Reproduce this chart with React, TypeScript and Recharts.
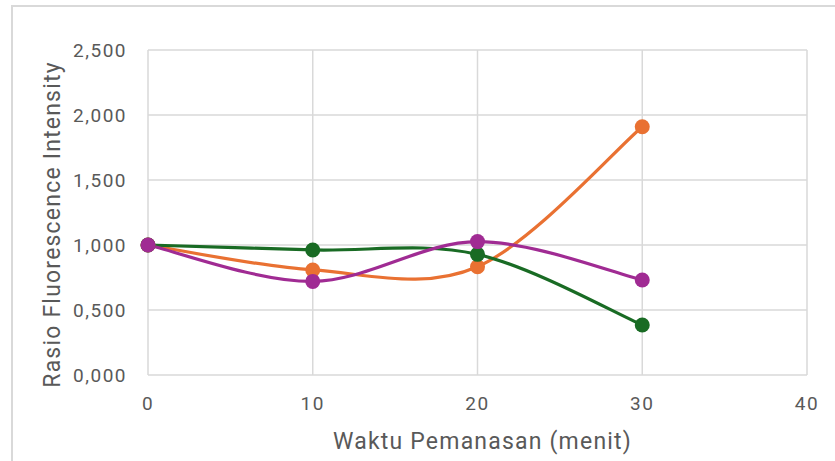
import React from "react";
import { LineChart, Line, XAxis, YAxis, CartesianGrid, Label } from "recharts";

// waktu pemanasan (menit)
const minutes = [0, 10, 20, 30];
const orangeSeries = [1.0, 0.808, 0.833, 1.91];
const greenSeries = [1.0, 0.962, 0.928, 0.385];
const purpleSeries = [1.0, 0.72, 1.026, 0.731];

const xTicks = [0, 10, 20, 30, 40];
const yTicks = [0, 0.5, 1.0, 1.5, 2.0, 2.5];

const data = minutes.map((m, i) => ({
  menit: m,
  orange: orangeSeries[i],
  green: greenSeries[i],
  purple: purpleSeries[i],
}));

const textColor = "#595959";
const gridColor = "#d9d9d9";
const font = "Roboto, 'Open Sans', sans-serif";

// Excel-style smoothed line (Catmull-Rom as cubic bezier, end points duplicated)
function excelSmooth(context: any) {
  let pts: number[][] = [];
  return {
    areaStart() {},
    areaEnd() {},
    lineStart() {
      pts = [];
    },
    point(x: number, y: number) {
      pts.push([+x, +y]);
    },
    lineEnd() {
      if (!pts.length) return;
      context.moveTo(pts[0][0], pts[0][1]);
      for (let i = 0; i < pts.length - 1; i++) {
        const p0 = pts[i - 1] || pts[i];
        const p1 = pts[i];
        const p2 = pts[i + 1];
        const p3 = pts[i + 2] || pts[i + 1];
        context.bezierCurveTo(
          p1[0] + (p2[0] - p0[0]) / 6,
          p1[1] + (p2[1] - p0[1]) / 6,
          p2[0] - (p3[0] - p1[0]) / 6,
          p2[1] - (p3[1] - p1[1]) / 6,
          p2[0],
          p2[1]
        );
      }
    },
  };
}

const fmt = (v: number) => v.toFixed(3).replace(".", ",");

const YTitle = (props: any) => {
  const { viewBox } = props;
  const cx = viewBox.x + 52;
  const cy = viewBox.y + viewBox.height / 2 + 12;
  return (
    <text
      x={cx}
      y={cy}
      transform={`rotate(-90 ${cx} ${cy})`}
      textAnchor="middle"
      dominantBaseline="central"
      fill={textColor}
      fontSize={23}
      fontFamily={font}
      letterSpacing={1.2}
    >
      Rasio Fluorescence Intensity
    </text>
  );
};

const XTitle = (props: any) => {
  const { viewBox } = props;
  const cx = viewBox.x + viewBox.width / 2 + 5;
  const cy = 441;
  return (
    <text
      x={cx}
      y={cy}
      textAnchor="middle"
      dominantBaseline="central"
      fill={textColor}
      fontSize={23}
      fontFamily={font}
      letterSpacing={1.2}
    >
      Waktu Pemanasan (menit)
    </text>
  );
};

const dot = (color: string) => ({ r: 7.5, fill: color, stroke: color, strokeWidth: 0 });

export default function App() {
  return (
    <div
      style={{
        position: "absolute",
        left: 0,
        top: 0,
        width: 835,
        height: 461,
        background: "#fff",
        overflow: "hidden",
      }}
    >
      <div
        style={{
          position: "absolute",
          left: 11,
          top: 5,
          width: 900,
          height: 600,
          border: `2px solid ${gridColor}`,
        }}
      />
      <div style={{ position: "absolute", left: 0, top: 0 }}>
        <LineChart
          width={835}
          height={461}
          data={data}
          margin={{ top: 50, right: 28, bottom: 0, left: 0 }}
        >
          <CartesianGrid stroke={gridColor} strokeWidth={1.5} />
          <XAxis
            dataKey="menit"
            type="number"
            domain={[0, 40]}
            ticks={xTicks}
            height={86}
            axisLine={false}
            tickLine={false}
            tickSize={6}
            tickMargin={16}
            tick={{ fill: textColor, fontSize: 19, fontFamily: font, letterSpacing: 1.5 }}
          >
            <Label content={<XTitle />} />
          </XAxis>
          <YAxis
            type="number"
            domain={[0, 2.5]}
            ticks={yTicks}
            width={148}
            axisLine={false}
            tickLine={false}
            tickSize={6}
            tickMargin={15}
            tickFormatter={fmt}
            tick={{ fill: textColor, fontSize: 19, fontFamily: font, letterSpacing: 1.5 }}
          >
            <Label content={<YTitle />} />
          </YAxis>
          <Line
            dataKey="orange"
            type={excelSmooth as any}
            stroke="#E97132"
            strokeWidth={3.2}
            dot={dot("#E97132")}
            activeDot={false}
            isAnimationActive={false}
          />
          <Line
            dataKey="green"
            type={excelSmooth as any}
            stroke="#196B24"
            strokeWidth={3.2}
            dot={dot("#196B24")}
            activeDot={false}
            isAnimationActive={false}
          />
          <Line
            dataKey="purple"
            type={excelSmooth as any}
            stroke="#A02B93"
            strokeWidth={3.2}
            dot={dot("#A02B93")}
            activeDot={false}
            isAnimationActive={false}
          />
        </LineChart>
      </div>
    </div>
  );
}
